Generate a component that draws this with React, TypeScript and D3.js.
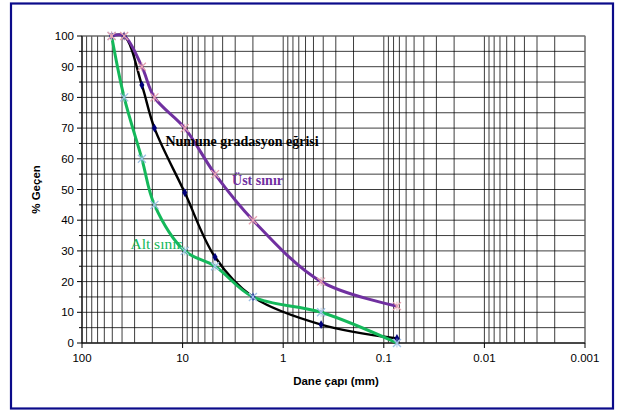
import React from 'react';
import * as d3 from 'd3';

// sieve openings (mm) and % passing
const sieveSizes = [50.8, 38.1, 25.4, 19.05, 9.52, 4.76, 2.0, 0.42, 0.074];
const sampleCurve = [100, 100, 84, 70, 49, 28, 15, 6, 1.5];
const upperLimit = [100, 100, 90, 80, 70, 55, 40, 20, 12];
const lowerLimit = [100, 80, 60, 45, 30, 25, 15, 10, 0];

const xTickLabels = ['100', '10', '1', '0.1', '0.01', '0.001'];
const yTicks = [0, 10, 20, 30, 40, 50, 60, 70, 80, 90, 100];

const W = 618;
const H = 412;

export default function App() {
  const x = d3.scaleLog().domain([100, 0.001]).range([82, 585]);
  const y = d3.scaleLinear().domain([0, 100]).range([343, 36]);

  const line = d3
    .line<[number, number]>()
    .x(d => x(d[0]))
    .y(d => y(d[1]))
    .curve(d3.curveCatmullRom.alpha(0.5));

  const pts = (vals: number[]) => sieveSizes.map((s, i) => [s, vals[i]] as [number, number]);

  // log grid: 1..9 in every decade
  const vGrid: number[] = [];
  for (let e = -3; e < 2; e++) {
    for (let m = 1; m <= 9; m++) vGrid.push(m * Math.pow(10, e));
  }
  vGrid.push(100);
  const hGrid = d3.range(0, 101, 5);

  const cross = (cx: number, cy: number, color: string, key: string) => (
    <g key={key} stroke={color} strokeWidth={1.3}>
      <line x1={cx - 4} y1={cy - 4} x2={cx + 4} y2={cy + 4} />
      <line x1={cx - 4} y1={cy + 4} x2={cx + 4} y2={cy - 4} />
      <line x1={cx} y1={cy - 4.5} x2={cx} y2={cy + 4.5} strokeWidth={0.8} />
    </g>
  );

  return (
    <svg
      width={W}
      height={H}
      style={{ position: 'absolute', left: 0, top: 0, background: '#fff' }}
      fontFamily="Liberation Sans, Arial, sans-serif"
    >
      <rect x={11} y={3.5} width={602} height={405} fill="#fff" stroke="#0b0b8a" strokeWidth={2.2} />

      {/* grid */}
      <g stroke="#000" strokeWidth={0.9} strokeOpacity={0.85}>
        {hGrid.map(v => (
          <line key={'h' + v} x1={x(100)} x2={x(0.001)} y1={y(v)} y2={y(v)} />
        ))}
        {vGrid.map(v => (
          <line key={'v' + v} x1={x(v)} x2={x(v)} y1={y(0)} y2={y(100)} />
        ))}
      </g>
      <rect x={x(100)} y={y(100)} width={x(0.001) - x(100)} height={y(0) - y(100)} fill="none" stroke="#808080" strokeWidth={1} />

      {/* axes */}
      <g stroke="#000" strokeWidth={1}>
        <line x1={x(100)} x2={x(100)} y1={y(0)} y2={y(100)} />
        <line x1={x(100)} x2={x(0.001)} y1={y(0)} y2={y(0)} />
        {hGrid.map(v => (
          <line key={'yt' + v} x1={x(100) - (v % 10 === 0 ? 5 : 3)} x2={x(100)} y1={y(v)} y2={y(v)} />
        ))}
        {xTickLabels.map(t => (
          <line key={'xt' + t} x1={x(+t)} x2={x(+t)} y1={y(0)} y2={y(0) + 5} />
        ))}
      </g>
      <g fontSize={11.5} fill="#000">
        {yTicks.map(v => (
          <text key={'yl' + v} x={x(100) - 8} y={y(v) + 4} textAnchor="end">
            {v}
          </text>
        ))}
        {xTickLabels.map(t => (
          <text key={'xl' + t} x={x(+t)} y={y(0) + 19} textAnchor="middle">
            {t}
          </text>
        ))}
      </g>
      <text x={336} y={385} textAnchor="middle" fontSize={11.5} fontWeight="bold">
        Dane çapı (mm)
      </text>
      <text
        transform={`translate(40,${y(50)}) rotate(-90)`}
        textAnchor="middle"
        fontSize={11.5}
        fontWeight="bold"
      >
        % Geçen
      </text>

      {/* curves */}
      <path d={line(pts(sampleCurve)) || ''} fill="none" stroke="#000" strokeWidth={2.4} />
      <path d={line(pts(lowerLimit)) || ''} fill="none" stroke="#14b85a" strokeWidth={3} />
      <path d={line(pts(upperLimit)) || ''} fill="none" stroke="#7030a0" strokeWidth={3} />

      {/* markers */}
      {sieveSizes.map((s, i) => (
        <path
          key={'d' + i}
          d={d3.symbol(d3.symbolDiamond, 22)() || ''}
          transform={`translate(${x(s)},${y(sampleCurve[i])})`}
          fill="#00007a"
        />
      ))}
      {sieveSizes.map((s, i) => cross(x(s), y(lowerLimit[i]), '#9ec0e4', 'lc' + i))}
      {sieveSizes.map((s, i) => cross(x(s), y(upperLimit[i]), '#e6a2b0', 'uc' + i))}

      {/* curve labels */}
      <g fontFamily="Liberation Serif, Times New Roman, serif">
        <text x={x(19.05) + 11} y={y(65) + 3} fontSize={14} fontWeight="bold" fill="#000">
          Numune gradasyon eğrisi
        </text>
        <text x={x(4.76) + 17} y={y(51.5)} fontSize={14} fontWeight="bold" fill="#7030a0">
          Üst sınır
        </text>
        <text x={x(33)} y={y(30.5)} fontSize={15.5} fill="#14b85a">
          Alt sınır
        </text>
      </g>
    </svg>
  );
}
